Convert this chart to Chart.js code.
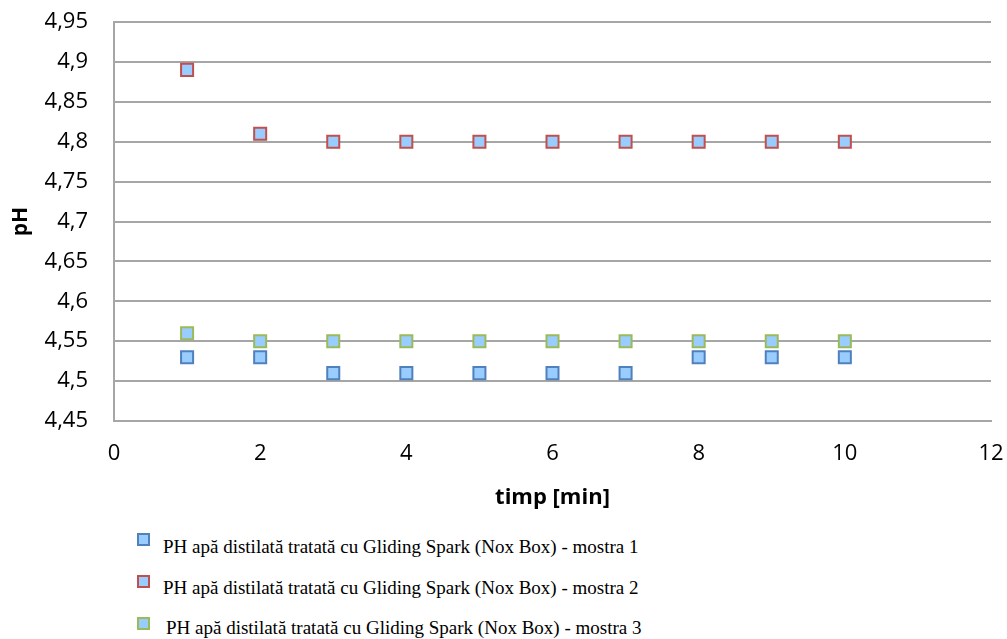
<!DOCTYPE html>
<html>
<head>
<meta charset="utf-8">
<script src="https://cdn.jsdelivr.net/npm/chart.js@4.4.1/dist/chart.umd.min.js"></script>
<style>
  body { margin: 0; background: #fff; }
  #wrap { position: relative; width: 1007px; height: 639px; }
  #box { position: absolute; left: 0; top: 0; width: 1007px; height: 520px; }
  .leg { position: absolute; font-family: "Liberation Serif", "Times New Roman", serif; font-size: 19px; color: #000; white-space: nowrap; line-height: 19px; }
  .sw { position: absolute; width: 9px; height: 9px; background: #99ccff; border: 2px solid; }
</style>
</head>
<body>
<div id="wrap">
  <div id="box"><canvas id="chart-ph"></canvas></div>
  <div id="legend"></div>
</div>
<script>
var timp = [1, 2, 3, 4, 5, 6, 7, 8, 9, 10];
var mostra1 = [4.53, 4.53, 4.51, 4.51, 4.51, 4.51, 4.51, 4.53, 4.53, 4.53];
var mostra2 = [4.89, 4.81, 4.80, 4.80, 4.80, 4.80, 4.80, 4.80, 4.80, 4.80];
var mostra3 = [4.56, 4.55, 4.55, 4.55, 4.55, 4.55, 4.55, 4.55, 4.55, 4.55];
var labels = [
    "PH apă distilată tratată cu Gliding Spark (Nox Box) - mostra 1",
    "PH apă distilată tratată cu Gliding Spark (Nox Box) - mostra 2",
    "PH apă distilată tratată cu Gliding Spark (Nox Box) - mostra 3"
];
var borders = ["#4f81bd", "#c0504d", "#9bbb59"];
var fill = "#99ccff";

function points(values) {
    return timp.map(function(t, i) { return { x: t, y: values[i] }; });
}

var series = [mostra1, mostra2, mostra3];
var datasets = series.map(function(s, i) {
    return {
        label: labels[i],
        data: points(s),
        showLine: false,
        pointStyle: 'rect',
        pointRadius: 8.5,
        pointBorderWidth: 2,
        pointBackgroundColor: fill,
        pointBorderColor: borders[i]
    };
});

// drop the automatic label overflow padding so layout.padding rules
function noPad(scale) {
    scale.paddingTop = 0; scale.paddingBottom = 0;
    scale.paddingLeft = 0; scale.paddingRight = 0;
}

var gridColor = '#a6a6a6';
var ctx = document.getElementById('chart-ph');
var myChart = new Chart(ctx, {
    type: 'scatter',
    data: { datasets: datasets },
    options: {
        responsive: true,
        maintainAspectRatio: false,
        animation: false,
        layout: { padding: { top: 22, right: 16, left: 0, bottom: 0 } },
        plugins: { legend: { display: false }, tooltip: { enabled: false } },
        scales: {
            x: {
                type: 'linear', min: 0, max: 12,
                ticks: { stepSize: 2, padding: 20, color: '#000', font: { family: 'Open Sans', size: 22 } },
                grid: { display: false, drawTicks: false },
                border: { display: true, color: gridColor, width: 2 },
                title: { display: true, text: 'timp [min]', color: '#000', padding: { top: 0, bottom: 9 }, font: { family: 'Open Sans', size: 22, weight: 'bold' } },
                afterFit: function(scale) { scale.height = 520 - 421; noPad(scale); }
            },
            y: {
                min: 4.45, max: 4.95,
                ticks: {
                    stepSize: 0.05, padding: 26, color: '#000',
                    font: { family: 'Open Sans', size: 22 },
                    callback: function(v) { return (Math.round(v * 100) / 100).toString().replace('.', ','); }
                },
                grid: { color: gridColor, lineWidth: 2, drawTicks: false },
                border: { display: true, color: gridColor, width: 2 },
                title: { display: true, text: 'pH', color: '#000', padding: { top: 8, bottom: 0 }, font: { family: 'Open Sans', size: 21, weight: 'bold' } },
                afterFit: function(scale) { scale.width = 114; noPad(scale); }
            }
        }
    }
});

// legend built from the same arrays
var legend = document.getElementById('legend');
var swY = [539, 581, 623];
var txY = [547, 588, 628];
var txX = [163, 163, 166];
labels.forEach(function(l, i) {
    var sw = document.createElement('div');
    sw.className = 'sw';
    sw.style.left = '137px';
    sw.style.top = (swY[i] - 6) + 'px';
    sw.style.borderColor = borders[i];
    legend.appendChild(sw);
    var t = document.createElement('div');
    t.className = 'leg';
    t.style.left = txX[i] + 'px';
    t.style.top = (txY[i] - 10) + 'px';
    t.textContent = l;
    legend.appendChild(t);
});
</script>
</body>
</html>
